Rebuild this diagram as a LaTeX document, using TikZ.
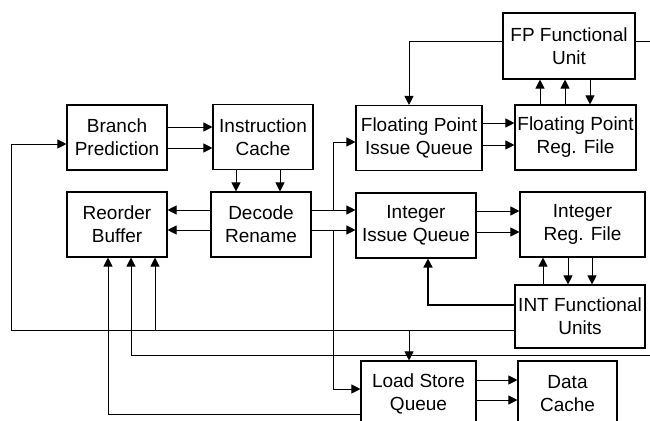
\documentclass[tikz,border=0pt]{standalone}
\usepackage{fontspec}
\setmainfont{Liberation Sans}
\usetikzlibrary{arrows.meta}

\tikzset{
	unit/.style={draw, line width=1.1pt, align=center, inner sep=0pt, minimum height=65pt, font=\fontsize{19}{23}\selectfont},
	arr/.style={-{Triangle[length=9pt,width=9pt]}},
}

\begin{document}
\begin{tikzpicture}[x=1pt, y=-1pt, line width=1pt]

		\useasboundingbox (0,0) rectangle (650,420);

		\node[unit, minimum width=100pt] (bp) at (117,137.5) {Branch\\Prediction};
		\node[unit, minimum width=100pt] (ic) at (263,137) {Instruction\\Cache};
		\node[unit, minimum width=100pt] (rob) at (117,224.5) {Reorder\\Buffer};
		\node[unit, minimum width=100pt] (dec) at (261,224.5) {Decode\\Rename};
		\node[unit, minimum width=132pt, minimum height=66pt] (fpfu) at (569,46) {FP Functional\\Unit};
		\node[unit, minimum width=126pt] (fpiq) at (419,138) {Floating Point\\Issue Queue};
		\node[unit, minimum width=121pt] (fprf) at (575.5,137.5) {Floating Point\\Reg. File};
		\node[unit, minimum width=120pt] (intiq) at (416,225.5) {Integer\\Issue Queue};
		\node[unit, minimum width=125pt] (intrf) at (582.5,224.5) {Integer\\Reg. File};
		\node[unit, minimum width=130pt, minimum height=63pt] (intfu) at (580,316.5) {INT Functional\\Units};
		\node[unit, minimum width=115pt] (lsq) at (418.5,393.5) {Load Store\\Queue};
		\node[unit, minimum width=99pt] (dc) at (567.5,393.5) {Data\\Cache};

		\foreach \y in {127,148}
		\draw[arr] (bp.east |- 0,\y) -- (ic.west |- 0,\y);
		\foreach \x in {236,280}
		\draw[arr] (ic.south -| \x,0) -- (dec.north -| \x,0);
		\foreach \y in {210,230}
		\draw[arr] (dec.west |- 0,\y) -- (rob.east |- 0,\y);
		\foreach \y in {210,230}
		\draw[arr] (dec.east |- 0,\y) -- (intiq.west |- 0,\y);
		\draw[arr] (333,210) |- (fpiq.west |- 0,142);
		\draw[arr] (333,230) |- (lsq.west |- 0,389);

		\draw[arr] (fpfu.west |- 0,42) -| (fpiq.north -| 409,0);
		\draw (fpfu.east |- 0,42) -- (650,42);
		\foreach \y in {123,145}
		\draw[arr] (fpiq.east |- 0,\y) -- (fprf.west |- 0,\y);
		\foreach \x in {540,565}
		\draw[arr] (fprf.north -| \x,0) -- (fpfu.south -| \x,0);
		\draw[arr] (fpfu.south -| 590,0) -- (fprf.north -| 590,0);

		\foreach \y in {211,232}
		\draw[arr] (intiq.east |- 0,\y) -- (intrf.west |- 0,\y);
		\draw[arr] (intfu.north -| 543,0) -- (intrf.south -| 543,0);
		\foreach \x in {568,592}
		\draw[arr] (intrf.south -| \x,0) -- (intfu.north -| \x,0);
		\draw[arr, line width=1.6pt] (intfu.west |- 0,305) -| (intiq.south -| 428,0);

		\draw[arr] (intfu.west |- 0,330) -| (11,144) -- (bp.west |- 0,144);
		\draw[arr] (155,330) -- (rob.south -| 155,0);
		\draw[arr] (409,330) -- (lsq.north -| 409,0);
		\draw[arr] (650,355) -| (rob.south -| 131,0);
		\draw[arr] (lsq.west |- 0,414) -| (rob.south -| 108,0);
		\foreach \y in {380,400}
		\draw[arr] (lsq.east |- 0,\y) -- (dc.west |- 0,\y);

	\end{tikzpicture}
\end{document}
